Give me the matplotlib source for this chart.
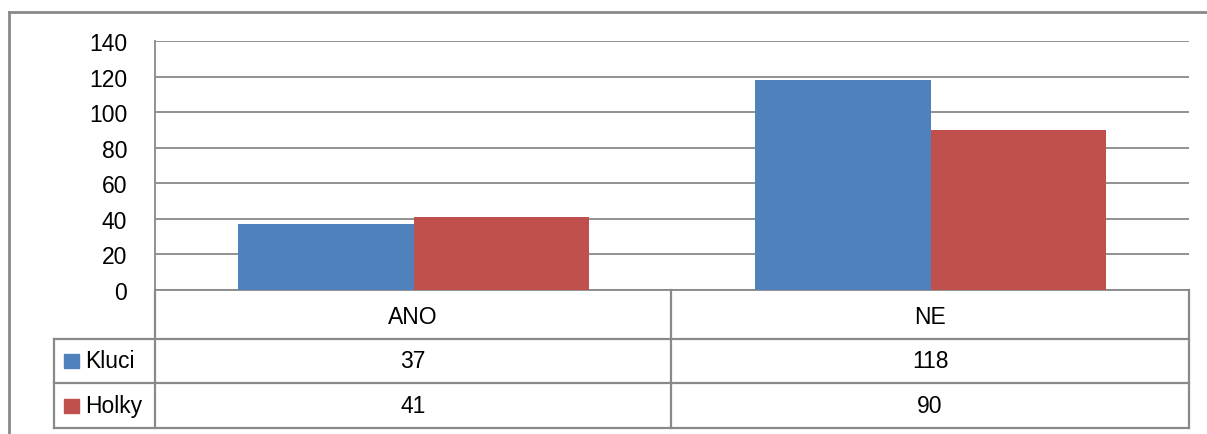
import numpy as np
import matplotlib.pyplot as plt
from matplotlib.lines import Line2D
from matplotlib.patches import Rectangle

categories = ["ANO", "NE"]
series = ["Kluci", "Holky"]
kluci = [37, 118]
holky = [41, 90]
colors = ["#4F81BD", "#C0504D"]

W, H = 1207, 435
plt.rcParams['font.family'] = ['Liberation Sans', 'DejaVu Sans']
fig = plt.figure(figsize=(W / 100, H / 100), dpi=100)

grid_col = "#898989"
fs = 16.5


def fx(px):
    return px / W


def fy(py):
    return 1 - py / H


# plot area in pixels
left, right, top, bottom = 155, 1189, 42, 291
ax = fig.add_axes([fx(left), fy(bottom), fx(right - left), fy(top) - fy(bottom)])

x = np.arange(len(categories))
bw = 0.34
ax.bar(x - bw / 2, kluci, bw, color=colors[0], zorder=3)
ax.bar(x + bw / 2, holky, bw, color=colors[1], zorder=3)

ax.set_xlim(-0.5, len(categories) - 0.5)
ax.set_ylim(0, 140)
ax.set_yticks(range(0, 141, 20))
ax.yaxis.grid(True, color=grid_col, linewidth=1.3)
ax.set_axisbelow(True)
ax.set_xticks([])
ax.tick_params(axis="y", length=0, labelsize=fs, pad=20)
for s in ["top", "right"]:
    ax.spines[s].set_visible(False)
for s in ["left", "bottom"]:
    ax.spines[s].set_color(grid_col)
    ax.spines[s].set_linewidth(1.3)

# data table below the axis
row_y = [340, 384, 429]
col_x = [left, 671, right]


def hline(py, x0, x1):
    fig.add_artist(Line2D([fx(x0), fx(x1)], [fy(py), fy(py)], color=grid_col, lw=1.6))


def vline(px, y0, y1):
    fig.add_artist(Line2D([fx(px), fx(px)], [fy(y0), fy(y1)], color=grid_col, lw=1.6))


for py in row_y:
    hline(py, 54, right)
for px in col_x:
    vline(px, bottom, row_y[-1])
vline(54, row_y[0], row_y[-1])

# category header
for i, cat in enumerate(categories):
    cx = (col_x[i] + col_x[i + 1]) / 2
    fig.text(fx(cx), fy((bottom + row_y[0]) / 2 + 2), cat, ha="center", va="center", fontsize=fs)

# series rows
for r, (name, vals, c) in enumerate(zip(series, [kluci, holky], colors)):
    cy = (row_y[r] + row_y[r + 1]) / 2
    fig.add_artist(Rectangle((fx(64), fy(cy + 7)), fx(15), fy(cy - 7) - fy(cy + 7),
                             color=c, transform=fig.transFigure))
    fig.text(fx(85), fy(cy), name, ha="left", va="center", fontsize=fs)
    for i, v in enumerate(vals):
        cx = (col_x[i] + col_x[i + 1]) / 2
        fig.text(fx(cx), fy(cy), str(v), ha="center", va="center", fontsize=fs)

# outer chart frame
fig.add_artist(Line2D([fx(9), 1], [fy(13), fy(13)], color=grid_col, lw=2))
fig.add_artist(Line2D([fx(9), fx(9)], [fy(13), 0], color=grid_col, lw=2))

fig.savefig("out.png", dpi=100)
